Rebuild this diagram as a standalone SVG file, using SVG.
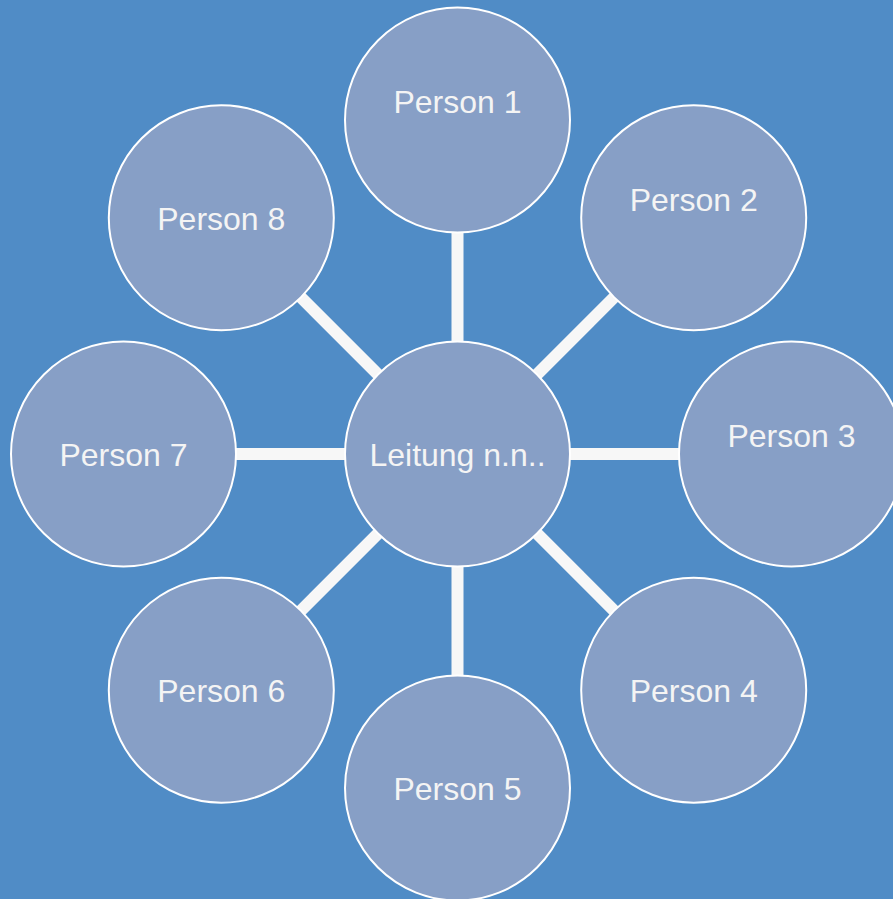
<svg xmlns="http://www.w3.org/2000/svg" width="893" height="899" viewBox="0 0 893 899">
<style>
.bg{fill:#508cc6}
.node circle{fill:#879fc6;stroke:#ffffff;stroke-width:2}
.node text{font-family:"Liberation Sans",Arial,sans-serif;font-size:32px;fill:#f4f4f4;text-anchor:middle}
.conn line{stroke:#f7f7f7;stroke-width:12;stroke-linecap:butt}
</style>
<rect class="bg" x="0" y="0" width="893" height="899"/>
<g id="connectors" class="conn">
<line x1="457.5" y1="347" x2="457.5" y2="227"/>
<line x1="533.2" y1="378.3" x2="617.9" y2="293.6"/>
<line x1="564" y1="454" x2="685" y2="454"/>
<line x1="533.2" y1="529.7" x2="617.9" y2="614.4"/>
<line x1="457.5" y1="561" x2="457.5" y2="681"/>
<line x1="381.8" y1="529.7" x2="297.1" y2="614.4"/>
<line x1="351" y1="454" x2="230" y2="454"/>
<line x1="381.8" y1="378.3" x2="297.1" y2="293.6"/>
</g>
<g id="center" class="node"><circle cx="457.5" cy="454" r="112.5"/><text x="457.5" y="466">Leitung n.n..</text></g>
<g id="person1" class="node"><circle cx="457.5" cy="120" r="112.5"/><text x="457.5" y="113">Person 1</text></g>
<g id="person2" class="node"><circle cx="693.7" cy="217.8" r="112.5"/><text x="693.7" y="211">Person 2</text></g>
<g id="person3" class="node"><circle cx="791.5" cy="454" r="112.5"/><text x="791.5" y="447">Person 3</text></g>
<g id="person4" class="node"><circle cx="693.7" cy="690.2" r="112.5"/><text x="693.7" y="702">Person 4</text></g>
<g id="person5" class="node"><circle cx="457.5" cy="788" r="112.5"/><text x="457.5" y="800">Person 5</text></g>
<g id="person6" class="node"><circle cx="221.3" cy="690.2" r="112.5"/><text x="221.3" y="702">Person 6</text></g>
<g id="person7" class="node"><circle cx="123.5" cy="454" r="112.5"/><text x="123.5" y="466">Person 7</text></g>
<g id="person8" class="node"><circle cx="221.3" cy="217.8" r="112.5"/><text x="221.3" y="230">Person 8</text></g>
</svg>
